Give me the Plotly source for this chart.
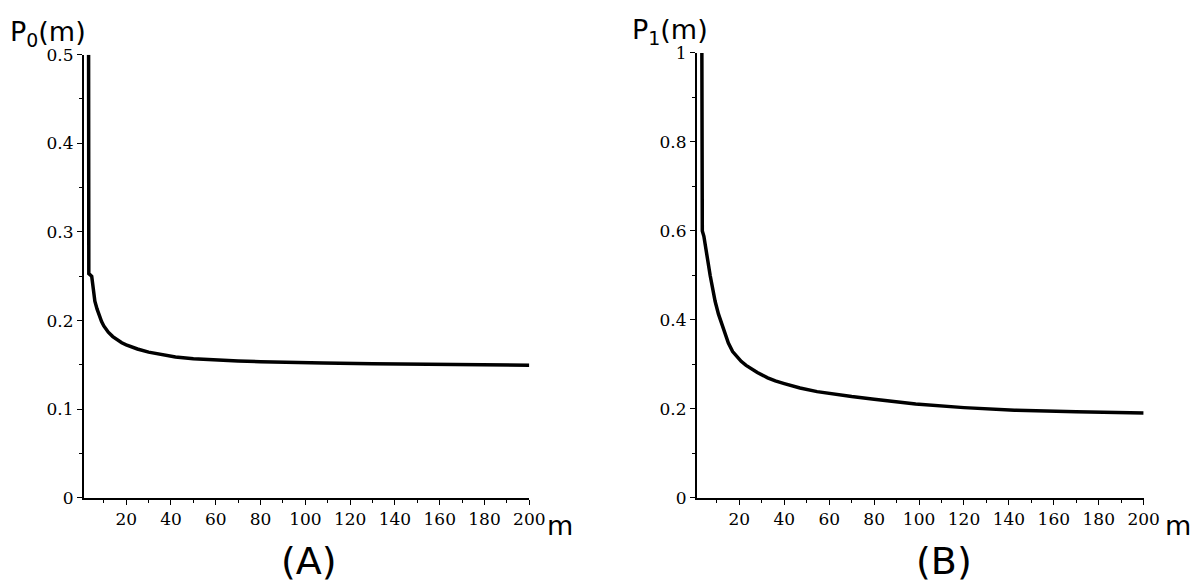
import plotly.graph_objects as go

# Panel A: P0(m)
m_a = [3.2, 3.3, 4.6, 5, 5.5, 6, 7, 8, 9, 10, 12, 14, 16, 18, 20, 25, 30, 35, 42, 50,
       60, 70, 80, 90, 108, 130, 160, 200]
p0 = [0.5, 0.253, 0.25, 0.24, 0.23, 0.222, 0.213, 0.205, 0.199, 0.194, 0.187, 0.182, 0.178,
      0.175, 0.1727, 0.168, 0.1645, 0.162, 0.159, 0.157, 0.1555, 0.1545, 0.1537, 0.153,
      0.1522, 0.1513, 0.1505, 0.1497]

# Panel B: P1(m)
m_b = [3.3, 3.5, 4.2, 4.8, 5.5, 6.2, 7, 8, 9.2, 10.7, 11.4, 13, 15.1, 17, 19, 20.8, 23,
       25.2, 28, 32.6, 36, 40, 47, 54.6, 62, 70, 80, 90, 98.5, 120, 142.5, 170, 200]
p1 = [1.0, 0.6, 0.588, 0.572, 0.55, 0.525, 0.5, 0.47, 0.442, 0.413, 0.402, 0.376, 0.348,
      0.329, 0.317, 0.307, 0.298, 0.290, 0.282, 0.270, 0.263, 0.257, 0.247, 0.239, 0.233,
      0.228, 0.222, 0.216, 0.211, 0.203, 0.197, 0.194, 0.191]

x_ticks = [20, 40, 60, 80, 100, 120, 140, 160, 180, 200]
y_ticks_a = [0, 0.1, 0.2, 0.3, 0.4, 0.5]
y_ticks_a_text = ["0", "0.1", "0.2", "0.3", "0.4", "0.5"]
y_ticks_b = [0, 0.2, 0.4, 0.6, 0.8, 1.0]
y_ticks_b_text = ["0", "0.2", "0.4", "0.6", "0.8", "1"]

fig = go.Figure()
fig.add_trace(go.Scatter(x=m_a, y=p0, mode="lines", line=dict(color="black", width=3.5),
                         xaxis="x", yaxis="y", showlegend=False))
fig.add_trace(go.Scatter(x=m_b, y=p1, mode="lines", line=dict(color="black", width=3.5),
                         xaxis="x2", yaxis="y2", showlegend=False))

tickfont = dict(family="DejaVu Serif", size=17, color="black")
common_x = dict(range=[1, 200], tickvals=x_ticks, showgrid=False, zeroline=False,
                showline=True, linecolor="black", linewidth=1.5,
                ticks="outside", ticklen=5, tickwidth=1.2, tickcolor="black",
                tickfont=tickfont,
                minor=dict(dtick=10, tick0=0, ticks="outside", ticklen=3, tickwidth=1,
                           tickcolor="black", showgrid=False))
common_y = dict(showgrid=False, zeroline=False, showline=True, linecolor="black", linewidth=1.5,
                ticks="outside", ticklen=5, tickwidth=1.2, tickcolor="black", tickfont=tickfont)

fig.update_layout(
    width=1200, height=584,
    margin=dict(l=0, r=0, t=0, b=0),
    paper_bgcolor="white", plot_bgcolor="white",
    xaxis=dict(domain=[0.0639, 0.4403], anchor="y", **common_x),
    yaxis=dict(domain=[0.149, 0.935], anchor="x", range=[0, 0.5], tickvals=y_ticks_a,
               ticktext=y_ticks_a_text,
               minor=dict(dtick=0.05, tick0=0, ticks="outside", ticklen=3, tickwidth=1,
                          tickcolor="black", showgrid=False),
               **common_y),
    xaxis2=dict(domain=[698 / 1200, 1151 / 1200], anchor="y2", **common_x),
    yaxis2=dict(domain=[0.149, 0.938], anchor="x2", range=[0, 1], tickvals=y_ticks_b,
                ticktext=y_ticks_b_text,
                minor=dict(dtick=0.1, tick0=0, ticks="outside", ticklen=3, tickwidth=1,
                           tickcolor="black", showgrid=False),
                **common_y),
)

labfont = dict(family="DejaVu Sans", size=27, color="black")
fig.add_annotation(text="P<sub>0</sub>(m)", x=0.0, y=1 - 36 / 584, xref="paper", yref="paper",
                   xanchor="left", yanchor="bottom", showarrow=False, font=labfont)
fig.add_annotation(text="P<sub>1</sub>(m)", x=630 / 1200, y=1 - 34 / 584, xref="paper", yref="paper",
                   xanchor="left", yanchor="bottom", showarrow=False, font=labfont)
fig.add_annotation(text="m", x=559 / 1200, y=1 - 526 / 584, xref="paper", yref="paper",
                   xanchor="center", yanchor="middle", showarrow=False, font=labfont)
fig.add_annotation(text="m", x=1186 / 1200, y=1 - 526 / 584, xref="paper", yref="paper",
                   xanchor="center", yanchor="middle", showarrow=False, font=labfont)
fig.add_annotation(text="(A)", x=305 / 1200, y=1 - 562 / 584, xref="paper", yref="paper",
                   xanchor="center", yanchor="middle", showarrow=False,
                   font=dict(family="DejaVu Sans", size=38, color="black"))
fig.add_annotation(text="(B)", x=949 / 1200, y=1 - 562 / 584, xref="paper", yref="paper",
                   xanchor="center", yanchor="middle", showarrow=False,
                   font=dict(family="DejaVu Sans", size=38, color="black"))

fig.write_html("out.html")
